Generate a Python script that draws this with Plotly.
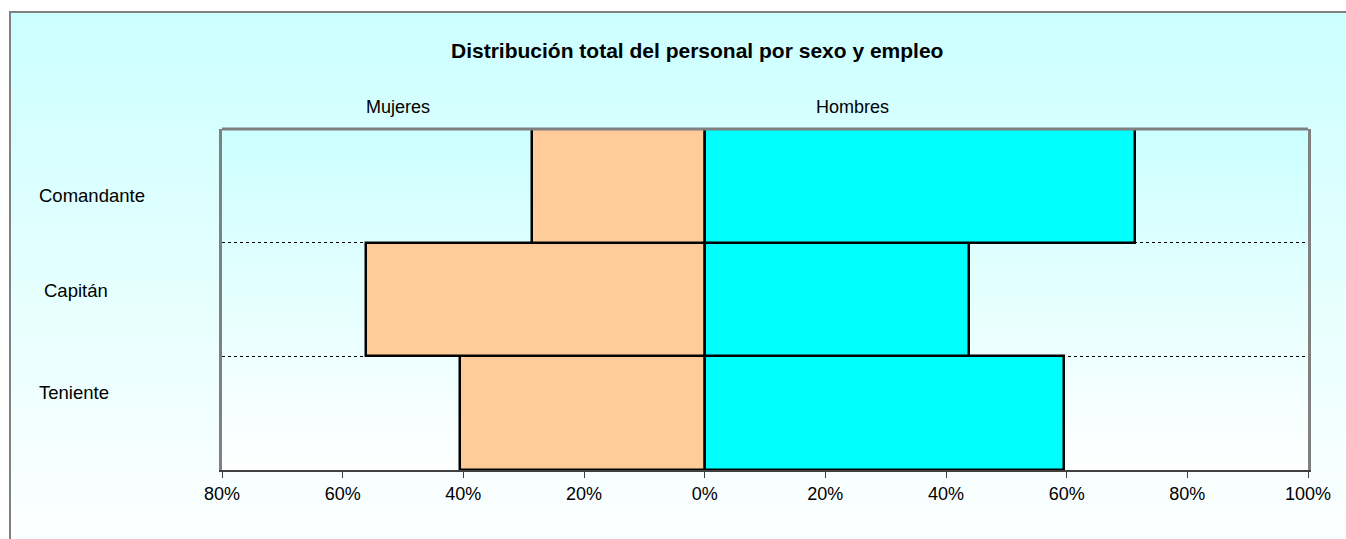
import plotly.graph_objects as go

# Data
categories = ["Teniente", "Capitán", "Comandante"]  # bottom to top
mujeres = [40.6, 56.2, 28.7]   # percent (drawn to the left)
hombres = [59.5, 43.8, 71.3]   # percent
tick_values = [-80, -60, -40, -20, 0, 20, 40, 60, 80, 100]
tick_labels = ["80%", "60%", "40%", "20%", "0%", "20%", "40%", "60%", "80%", "100%"]
title_text = "Distribución total del personal por sexo y empleo"
series_names = ["Mujeres", "Hombres"]

W, H = 1346, 539
L, R, T, B = 222, 38, 129, 69
pw, ph = W - L - R, H - T - B

def px_to_paper_x(px):
    return (px - L) / pw

def px_to_paper_y(py):
    return (H - B - py) / ph

FONT = "Liberation Sans, Arial, sans-serif"

fig = go.Figure()
fig.add_trace(go.Bar(
    y=categories, x=[-v for v in mujeres], orientation="h", name=series_names[0],
    marker=dict(color="#FFCC99", line=dict(color="black", width=2.5)),
    hoverinfo="skip",
))
fig.add_trace(go.Bar(
    y=categories, x=hombres, orientation="h", name=series_names[1],
    marker=dict(color="#00FFFF", line=dict(color="black", width=2.5)),
    hoverinfo="skip",
))

shapes = []

def lerp_color(t):
    c0 = (204, 255, 255)
    c1 = (255, 255, 255)
    c = [round(a + (b - a) * t) for a, b in zip(c0, c1)]
    return "rgb(%d,%d,%d)" % tuple(c)

# outer chart area gradient (from y=12px to bottom)
top_px, bot_px = 12, 560
N = 80
for i in range(N):
    y0p = top_px + (bot_px - top_px) * i / N
    y1p = top_px + (bot_px - top_px) * (i + 1) / N + 1
    shapes.append(dict(type="rect", xref="paper", yref="paper",
                       x0=px_to_paper_x(10), x1=px_to_paper_x(1400),
                       y0=px_to_paper_y(y1p), y1=px_to_paper_y(y0p),
                       fillcolor=lerp_color(i / N), line=dict(width=0), layer="below"))
# plot area gradient
for i in range(N):
    shapes.append(dict(type="rect", xref="paper", yref="paper",
                       x0=0, x1=1,
                       y0=1 - (i + 1) / N - 0.002, y1=1 - i / N,
                       fillcolor=lerp_color(i / N), line=dict(width=0), layer="below"))
# outer border
shapes.append(dict(type="rect", xref="paper", yref="paper",
                   x0=px_to_paper_x(10), x1=px_to_paper_x(1400),
                   y0=px_to_paper_y(600), y1=px_to_paper_y(12),
                   line=dict(color="#808080", width=2), fillcolor="rgba(0,0,0,0)", layer="below"))
# top border of plot area
shapes.append(dict(type="line", xref="paper", yref="paper", x0=0, x1=1, y0=1, y1=1,
                   line=dict(color="#808080", width=3), layer="above"))

annotations = [
    dict(text="<b>%s</b>" % title_text, xref="paper", yref="paper",
         x=px_to_paper_x(697), y=px_to_paper_y(50), xanchor="center", yanchor="middle",
         showarrow=False, font=dict(size=21, color="black", family=FONT)),
    dict(text=series_names[0], xref="paper", yref="paper",
         x=px_to_paper_x(398), y=px_to_paper_y(107), xanchor="center", yanchor="middle",
         showarrow=False, font=dict(size=18, color="black", family=FONT)),
    dict(text=series_names[1], xref="paper", yref="paper",
         x=px_to_paper_x(852), y=px_to_paper_y(107), xanchor="center", yanchor="middle",
         showarrow=False, font=dict(size=18, color="black", family=FONT)),
]
label_px = {"Comandante": (37, 195), "Capitán": (42, 290), "Teniente": (37, 392)}
for cat in categories:
    lx, ly = label_px[cat]
    annotations.append(dict(text=cat, xref="paper", yref="paper",
                            x=px_to_paper_x(lx), y=px_to_paper_y(ly),
                            xanchor="left", yanchor="middle", showarrow=False,
                            font=dict(size=18.5, color="black", family=FONT)))

fig.update_layout(
    width=W, height=H,
    margin=dict(l=L, r=R, t=T, b=B, pad=0),
    paper_bgcolor="white",
    plot_bgcolor="rgba(0,0,0,0)",
    barmode="relative",
    bargap=0,
    showlegend=False,
    shapes=shapes,
    annotations=annotations,
    font=dict(family=FONT, size=18, color="black"),
    xaxis=dict(range=[-80, 100], tickvals=tick_values, ticktext=tick_labels,
               showgrid=False, zeroline=False, showline=True, linecolor="#404040",
               linewidth=2, ticks="outside", ticklen=6, tickwidth=1, tickcolor="#404040",
               tickfont=dict(size=18, color="black", family=FONT), fixedrange=True),
    yaxis=dict(categoryorder="array", categoryarray=categories,
               showticklabels=False, ticks="", tickson="boundaries",
               showgrid=True, gridcolor="black", gridwidth=1, griddash="dot",
               zeroline=False, showline=True, mirror=True, linecolor="#808080",
               linewidth=3, fixedrange=True),
)

fig.write_html(
    "out.html",
    config={"displayModeBar": False},
    post_script="document.body.style.margin='0';document.body.style.overflow='hidden';",
)
